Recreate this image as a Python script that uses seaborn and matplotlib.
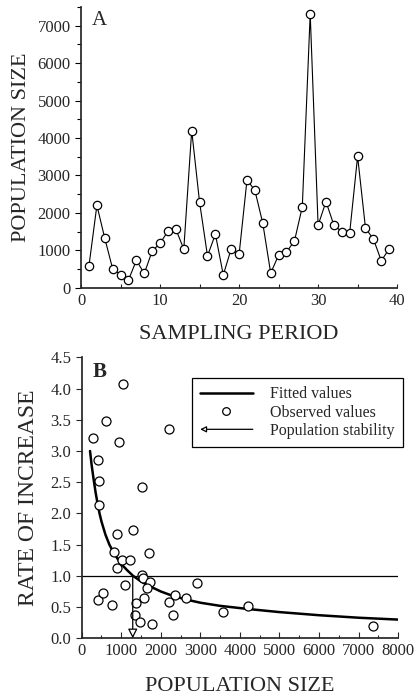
import matplotlib
matplotlib.use("Agg")
import matplotlib.pyplot as plt
from matplotlib.lines import Line2D
from matplotlib.patches import FancyArrowPatch
from matplotlib.legend_handler import HandlerBase
from matplotlib.ticker import MultipleLocator, FormatStrFormatter
import seaborn as sns
import pandas as pd

# Panel A: population size per sampling period
period = list(range(1, 40))
pop_size = [590, 2200, 1320, 500, 350, 210, 730, 380, 980, 1190,
            1510, 1560, 1030, 4200, 2280, 850, 1430, 340, 1040, 890,
            2880, 2600, 1720, 390, 870, 960, 1240, 2160, 7320, 1670,
            2300, 1670, 1500, 1470, 3510, 1590, 1300, 720, 1040]

# Panel B: observed rate of increase vs population size
obs_size = [280, 1050, 620, 950, 2200, 400, 440, 440, 1520,
            880, 1290, 820, 1020, 1220, 1710, 900, 1520, 1550, 1730,
            1640, 1100, 2920, 400, 540, 770, 1360, 1340, 1470, 1570,
            1780, 2200, 2350, 2300, 2630, 3580, 4210, 7370]
obs_rate = [3.21, 4.08, 3.48, 3.14, 3.35, 2.86, 2.52, 2.14, 2.43,
            1.67, 1.73, 1.39, 1.26, 1.26, 1.37, 1.12, 1.01, 0.96, 0.90,
            0.81, 0.85, 0.89, 0.62, 0.72, 0.53, 0.57, 0.38, 0.26, 0.64,
            0.23, 0.58, 0.69, 0.37, 0.65, 0.42, 0.51, 0.19]

# fitted curve
fit_size = [210, 250, 300, 350, 400, 450, 500, 600, 700, 800, 900, 1000, 1150, 1300,
            1500, 1700, 2000, 2300, 2650, 3000, 3500, 4200, 5000, 6000, 7000, 8000]
fit_rate = [3.00, 2.78, 2.55, 2.34, 2.16, 2.00, 1.87, 1.66, 1.50, 1.38, 1.28, 1.19, 1.09, 1.00,
            0.91, 0.84, 0.75, 0.68, 0.62, 0.57, 0.52, 0.47, 0.42, 0.37, 0.33, 0.30]

stable_size = 1290

sns.set_theme(style="ticks")
plt.rcParams['font.family'] = ['Liberation Serif', 'DejaVu Serif']

fig = plt.figure(figsize=(4.18, 6.99), dpi=100)
ax1 = fig.add_axes([0.194, 0.5884, 0.756, 0.4016])
ax2 = fig.add_axes([0.1955, 0.0868, 0.757, 0.402])

tick_fs = 12
label_fs = 16

# ==========================================
# Panel A
# ==========================================
df_a = pd.DataFrame({"period": period, "size": pop_size})
sns.lineplot(data=df_a, x="period", y="size", ax=ax1, color="black", linewidth=0.8,
             marker="o", markersize=6, markerfacecolor="white", markeredgecolor="black",
             markeredgewidth=0.9)
ax1.set_xlim(0, 40)
ax1.set_ylim(0, 7500)
ax1.xaxis.set_major_locator(MultipleLocator(10))
ax1.xaxis.set_minor_locator(MultipleLocator(5))
ax1.yaxis.set_major_locator(MultipleLocator(1000))
ax1.yaxis.set_minor_locator(MultipleLocator(500))
ax1.tick_params(axis="y", which="both", direction="out", labelsize=tick_fs, color="black", width=0.8)
ax1.tick_params(axis="y", which="major", length=4)
ax1.tick_params(axis="y", which="minor", length=3)
ax1.tick_params(axis="x", which="both", direction="in", labelsize=tick_fs, length=3, width=0.8)
ax1.set_xlabel("SAMPLING PERIOD", fontsize=label_fs, labelpad=12)
ax1.set_ylabel("POPULATION SIZE", fontsize=label_fs, labelpad=5)
ax1.text(0.035, 0.985, "A", transform=ax1.transAxes, fontsize=15, va="top", ha="left")
sns.despine(ax=ax1)

# ==========================================
# Panel B
# ==========================================
df_obs = pd.DataFrame({"size": obs_size, "rate": obs_rate})
df_fit = pd.DataFrame({"size": fit_size, "rate": fit_rate})

ax2.axhline(1.0, color="black", linewidth=0.9)
sns.lineplot(data=df_fit, x="size", y="rate", ax=ax2, color="black", linewidth=1.8)
sns.scatterplot(data=df_obs, x="size", y="rate", ax=ax2, s=42, facecolor="white",
                edgecolor="black", linewidth=0.9, zorder=3)
ax2.annotate("", xy=(stable_size, 0.0), xytext=(stable_size, 1.0),
             arrowprops=dict(arrowstyle="-|>", color="black", lw=0.9,
                             mutation_scale=14, fc="white", shrinkA=0, shrinkB=0))
ax2.set_xlim(0, 8000)
ax2.set_ylim(0, 4.5)
ax2.xaxis.set_major_locator(MultipleLocator(1000))
ax2.xaxis.set_minor_locator(MultipleLocator(500))
ax2.yaxis.set_major_locator(MultipleLocator(0.5))
ax2.yaxis.set_major_formatter(FormatStrFormatter("%.1f"))
ax2.tick_params(axis="y", which="both", direction="out", labelsize=tick_fs, length=4, width=0.8)
ax2.tick_params(axis="x", which="both", direction="in", labelsize=tick_fs, width=0.8)
ax2.tick_params(axis="x", which="major", length=4)
ax2.tick_params(axis="x", which="minor", length=2.5)
ax2.set_xlabel("POPULATION SIZE", fontsize=label_fs, labelpad=13)
ax2.set_ylabel("RATE OF INCREASE", fontsize=17, labelpad=8)
ax2.text(0.035, 0.985, "B", transform=ax2.transAxes, fontsize=15, va="top", ha="left",
         fontweight="bold")
sns.despine(ax=ax2)


class HandlerArrow(HandlerBase):
    # legend entry: line with an open arrow head pointing left
    def create_artists(self, legend, orig_handle, xdescent, ydescent, width, height,
                       fontsize, trans):
        y = height / 2 - ydescent
        arrow = FancyArrowPatch((width - xdescent, y), (-xdescent, y), arrowstyle="-|>",
                                mutation_scale=9, lw=0.9, ec="black", fc="white",
                                shrinkA=0, shrinkB=0, transform=trans)
        return [arrow]


arrow_handle = Line2D([], [], color="black")
handles = [Line2D([], [], color="black", linewidth=1.8),
           Line2D([], [], linestyle="none", marker="o", markersize=5.5,
                  markerfacecolor="white", markeredgecolor="black", markeredgewidth=0.9),
           arrow_handle]
labels = ["Fitted values", "Observed values", "Population stability"]
leg = ax2.legend(handles, labels, loc="upper left", bbox_to_anchor=(0.349, 0.926),
                 borderaxespad=0, fontsize=11.5, handlelength=3.3, handletextpad=1.1,
                 labelspacing=0.15, borderpad=0.5, fancybox=False, framealpha=1,
                 edgecolor="black", handler_map={arrow_handle: HandlerArrow()})
leg.get_frame().set_linewidth(0.9)

fig.savefig("out.png", dpi=100)
plt.close(fig)
